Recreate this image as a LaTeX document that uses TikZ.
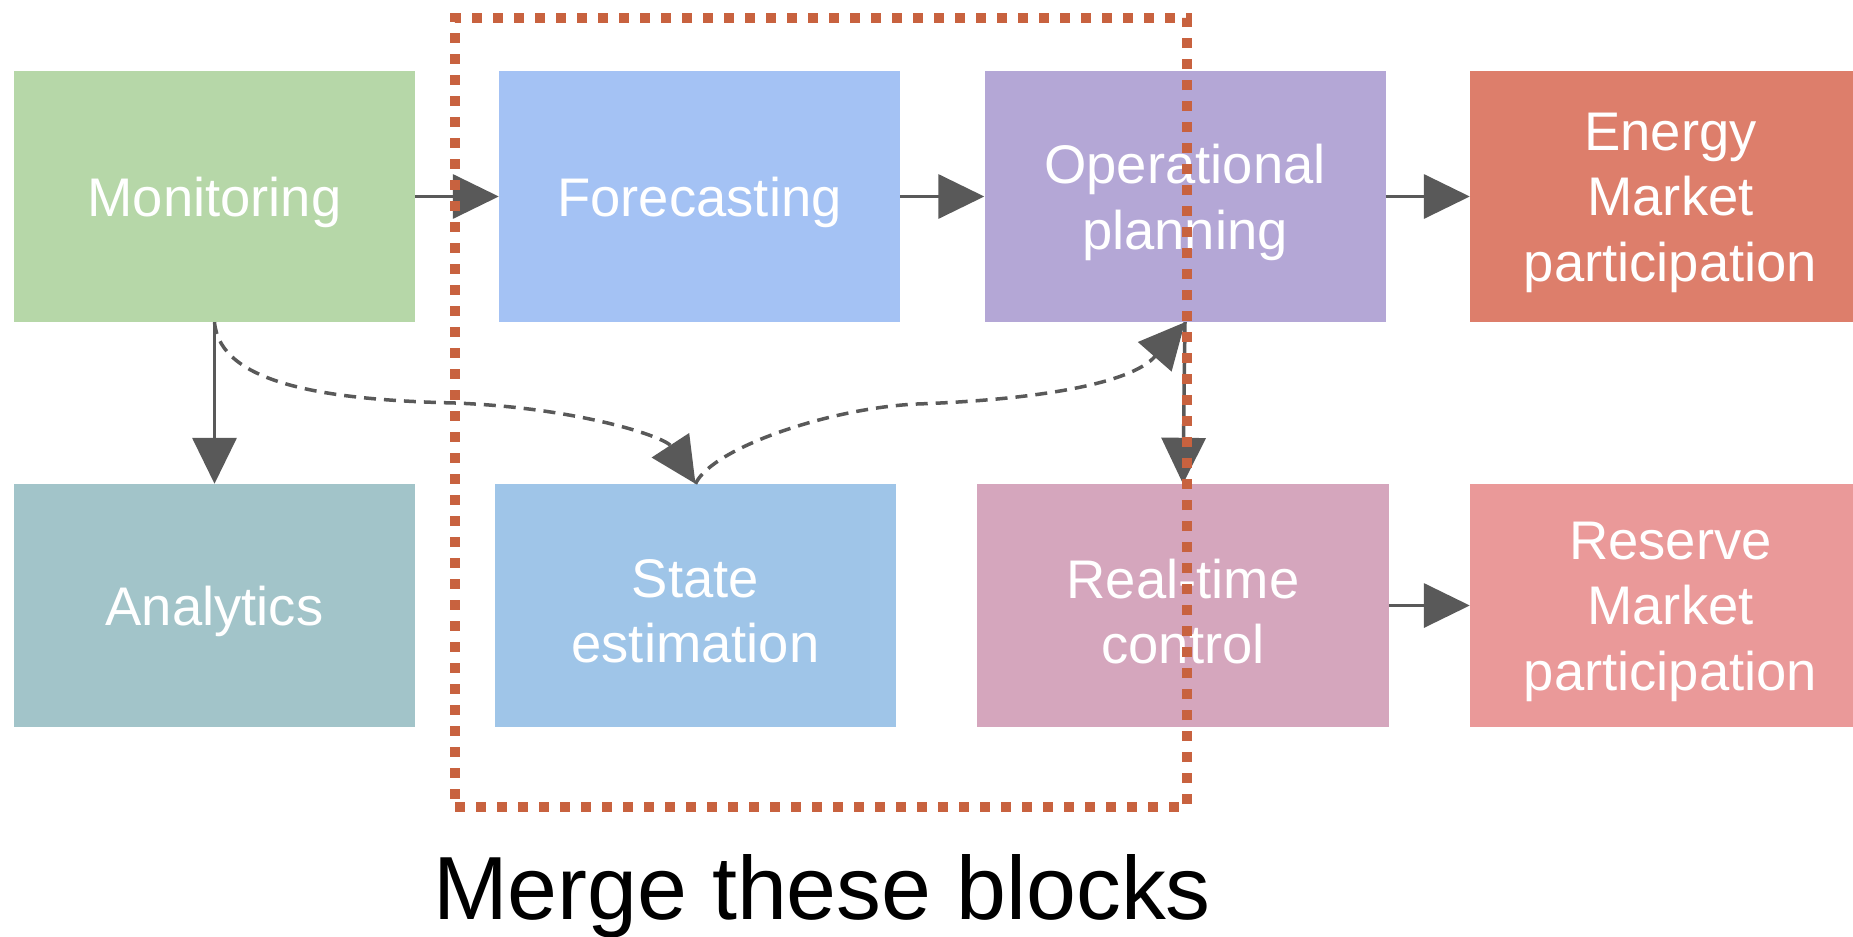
\documentclass[tikz,border=0pt]{standalone}
\usepackage{fontspec}
\setmainfont{Liberation Sans}
\usetikzlibrary{arrows.meta}

\definecolor{cMon}{HTML}{B6D7A8}
\definecolor{cFc}{HTML}{A4C2F4}
\definecolor{cOp}{HTML}{B4A7D6}
\definecolor{cEm}{HTML}{DD7E6B}
\definecolor{cAn}{HTML}{A2C4C9}
\definecolor{cSe}{HTML}{9FC5E8}
\definecolor{cRt}{HTML}{D5A6BD}
\definecolor{cRm}{HTML}{EA9999}
\definecolor{cArrow}{HTML}{595959}
\definecolor{cFrame}{HTML}{C8623F}

\tikzset{
  block/.style={rectangle, inner sep=0pt, draw=none, minimum width=401pt},
  toprow/.style={block, minimum height=251pt},
  botrow/.style={block, minimum height=243pt},
  blocktext/.style={inner sep=0pt, text=white, align=center,
    font=\fontsize{54.4}{65.5}\selectfont},
  flow/.style={draw=cArrow, line width=3.5pt,
    -{Triangle[length=46pt, width=44pt]}, color=cArrow},
  link/.style={flow, dash pattern=on 12pt off 8pt},
  mergeframe/.style={draw=cFrame, line width=10pt, dash pattern=on 10pt off 11pt,
    inner sep=0pt}
}

\begin{document}
\begin{tikzpicture}[x=1pt, y=-1pt]
  \useasboundingbox (0,0) rectangle (1853,937);

  % upper row of blocks
  \node[toprow, fill=cMon] (mon) at (214.5,196.5) {};
  \node[toprow, fill=cFc]  (fc)  at (699.5,196.5) {};
  \node[toprow, fill=cOp]  (op)  at (1185,196.5) {};
  \node[toprow, fill=cEm]  (em)  at (1670.5,196.5) {};

  % lower row of blocks
  \node[botrow, fill=cAn] (an) at (214.5,605.5) {};
  \node[botrow, fill=cSe] (se) at (695.5,605.5) {};
  \node[botrow, fill=cRt, minimum width=412pt] (rt) at (1183,605.5) {};
  \node[botrow, fill=cRm] (rm) at (1670.5,605.5) {};

  % block titles, set a little below the box centre so the capitals sit in the middle
  \node[blocktext] (monT) at ([yshift=-6pt]mon.center) {Monitoring};
  \node[blocktext] (fcT)  at ([yshift=-6pt]fc.center)  {Forecasting};
  \node[blocktext] (opT)  at ([yshift=-6pt]op.center)  {Operational\\planning};
  \node[blocktext] (emT)  at ([yshift=-6pt]em.center)  {Energy\\Market\\participation};
  \node[blocktext] (anT)  at ([yshift=-6pt]an.center)  {Analytics};
  \node[blocktext] (seT)  at ([yshift=-6pt]se.center)  {State\\estimation};
  \node[blocktext] (rtT)  at ([yshift=-6pt]rt.center)  {Real-time\\control};
  \node[blocktext] (rmT)  at ([yshift=-6pt]rm.center)  {Reserve\\Market\\participation};

  % solid connectors
  \draw[flow] (mon.east) -- (fc.west);
  \draw[flow] (fc.east) -- (op.west);
  \draw[flow] (op.east) -- (em.west);
  \draw[flow] (rt.east) -- (rm.west);
  \draw[flow] (mon.south) -- (an.north);
  \draw[flow] (op.south) -- (rt.north);

  % dashed connectors
  \draw[link] (mon.south) .. controls (220,385) and (330,400) .. (455,403)
                          .. controls (580,408) and (665,437) .. (se.north);
  \draw[link] (se.north) .. controls (712,448) and (830,408) .. (917,404)
                         .. controls (1030,400) and (1130,385) .. (op.south);

  % frame around the blocks to be merged
  \node[mergeframe, minimum width=732pt, minimum height=789pt] (frame) at (821,412.5) {};

  \node[anchor=base, font=\fontsize{89.7}{100}\selectfont] (caption) at (822,919) {Merge these blocks};
\end{tikzpicture}
\end{document}
